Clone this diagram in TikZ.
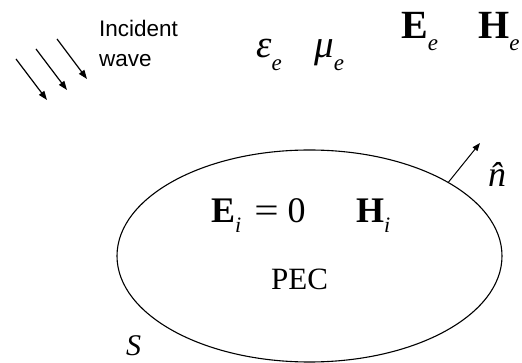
\documentclass[tikz,border=0pt]{standalone}
\usepackage{fontspec}
\setmainfont{Liberation Serif}
\newfontfamily\arialfont{Liberation Sans}
\usetikzlibrary{arrows.meta,shapes.geometric}
\newcommand{\fsz}[1]{\fontsize{#1}{#1}\selectfont}
\newcommand{\lowsub}[3]{\raisebox{-#1pt}{\fsz{#2}\mdseries\itshape #3}}
\begin{document}
\begin{tikzpicture}[x=1pt,y=-1pt,
  lbl/.style={inner sep=0pt, anchor=base west},
  wavearrow/.style={line width=1.2pt, -{Triangle[length=9pt,width=6.5pt]}},
  normarrow/.style={line width=1pt, -{Triangle[length=8pt,width=6pt]}},
  sans/.style={font=\arialfont\fsz{22.5}},
]
\useasboundingbox[fill=white] (0,0) rectangle (522,363);
% incident wave arrows
\coordinate (a1s) at (57,39);  \coordinate (a1e) at (87,79);
\coordinate (a2s) at (36,49);  \coordinate (a2e) at (67,90);
\coordinate (a3s) at (16,59);  \coordinate (a3e) at (47,100);
\draw[wavearrow] (a1s) -- (a1e);
\draw[wavearrow] (a2s) -- (a2e);
\draw[wavearrow] (a3s) -- (a3e);
\node[lbl, sans] (inc) at (99,37) {Incident};
\node[lbl, sans] (wav) at (99,67) {wave};
% exterior medium
\node[lbl] (eps) at (256,58) {\fsz{39}\itshape ε\lowsub{13}{23}{e}};
\node[lbl] (mu) at (314,58) {\fsz{39}\itshape μ\lowsub{13}{23}{e}};
\node[lbl] (Ee) at (401,39) {\fsz{40}\bfseries E\lowsub{12}{23}{e}};
\node[lbl] (He) at (478,39) {\fsz{40}\bfseries H\lowsub{12}{23}{e}};
% scatterer
\node[draw, ellipse, line width=1.1pt, inner sep=0pt, minimum width=385pt, minimum height=212pt] (pec) at (309.5,256) {};
\coordinate (ntip) at (480,143);
\draw[normarrow] (pec.28) -- (ntip);
\node[lbl] (nhat) at (488,187) {\fsz{36}\itshape \^{n}};
\node[lbl] (Ei) at (211,223) {\fsz{36}\bfseries E\lowsub{10}{22}{i}\mdseries\hspace{13pt}\scalebox{1.2}[1]{=}\hspace{9pt}0};
\node[lbl] (Hi) at (356,223) {\fsz{36}\bfseries H\lowsub{10}{22}{i}};
\node[lbl] (pectext) at (271,290) {\fsz{31}PEC};
\node[lbl] (S) at (126,355) {\fsz{30}\itshape S};
\end{tikzpicture}
\end{document}
